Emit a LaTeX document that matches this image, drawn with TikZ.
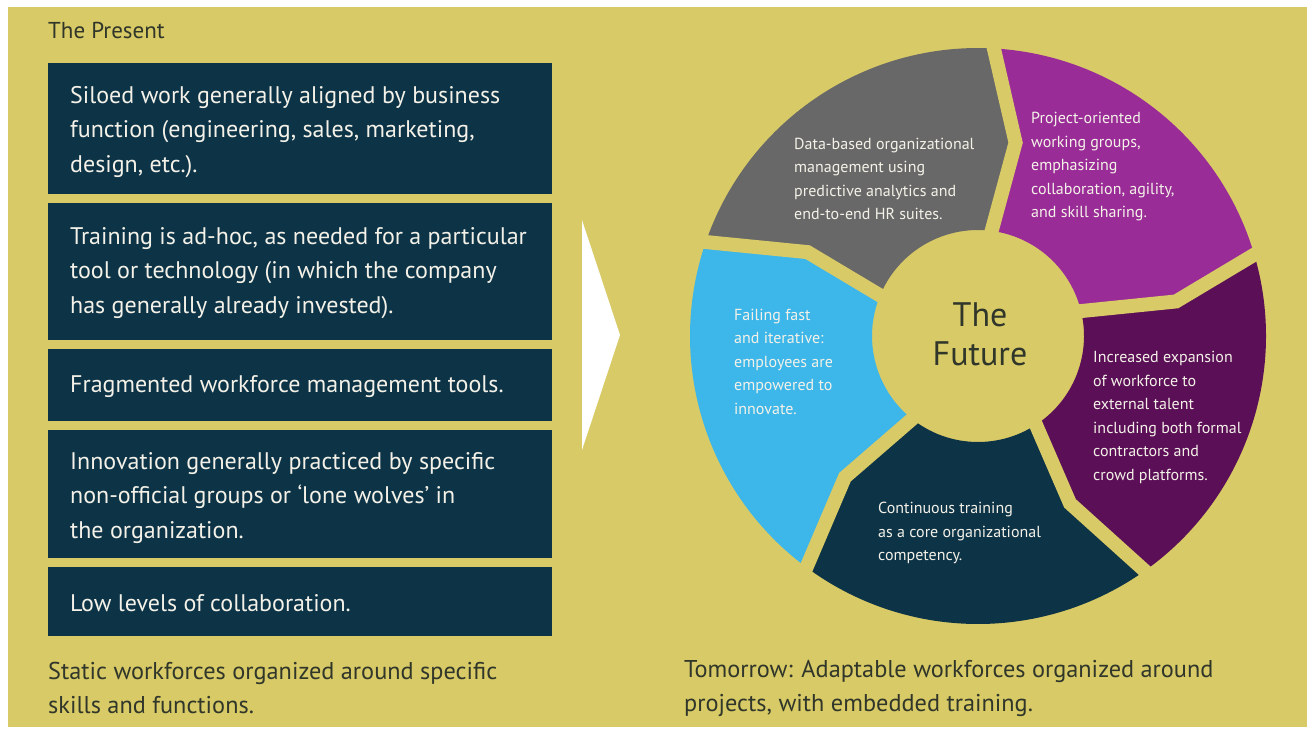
\documentclass[tikz,border=0pt]{standalone}
\usepackage{fontspec}
\setmainfont{PT Sans}
\usetikzlibrary{calc}
\definecolor{bgyellow}{HTML}{D8CA66}
\definecolor{boxnavy}{HTML}{0D3347}
\definecolor{seggray}{HTML}{686868}
\definecolor{segpurple}{HTML}{9A2C98}
\definecolor{segplum}{HTML}{5B0F57}
\definecolor{segblue}{HTML}{3DB6EA}
\definecolor{inkdark}{HTML}{30362A}
\definecolor{inklight}{HTML}{F4F2E8}
\begin{document}
\begin{tikzpicture}[x=1pt,y=-1pt,
  presentbox/.style={fill=boxnavy, draw=none, inner sep=0pt, minimum width=504pt, anchor=north west},
  boxtext/.style={anchor=west, align=left, inner sep=0pt, text=inklight, font=\fontsize{24}{34.5}\selectfont},
  caption/.style={anchor=west, align=left, inner sep=0pt, text=inkdark, font=\fontsize{24.3}{34}\selectfont},
  wheeltext/.style={anchor=west, align=left, inner sep=0pt, text=inklight, font=\fontsize{16}{23.5}\selectfont},
  gapline/.style={draw=bgyellow, line width=14pt, line join=miter}]
\useasboundingbox (0,0) rectangle (1307,729);
\fill[white] (0,0) rectangle (1307,729);
\fill[bgyellow] (8,7) rectangle (1307,727);

% ---- left column: the present ----
\node[caption, font=\fontsize{23}{26}\selectfont] (present) at (48,30) {The Present};

\node[presentbox, minimum height=131pt] (b1) at (48,63) {};
\node[presentbox, minimum height=137pt] (b2) at (48,203) {};
\node[presentbox, minimum height=72pt]  (b3) at (48,349) {};
\node[presentbox, minimum height=128pt] (b4) at (48,430) {};
\node[presentbox, minimum height=69pt]  (b5) at (48,567) {};

\node[boxtext] (t1) at (70,132) {Siloed work generally aligned by business\\function (engineering, sales, marketing,\\design, etc.).};
\node[boxtext] (t2) at (70,273) {Training is ad-hoc, as needed for a particular\\tool or technology (in which the company\\has generally already invested).};
\node[boxtext] (t3) at (70,387) {Fragmented workforce management tools.};
\node[boxtext] (t4) at (70,498) {Innovation generally practiced by specific\\non-official groups or `lone wolves' in\\the organization.};
\node[boxtext] (t5) at (70,603) {Low levels of collaboration.};

\node[caption] (capL) at (48,688) {Static workforces organized around specific\\skills and functions.};
\node[caption] (capR) at (684,688) {Tomorrow: Adaptable workforces organized around\\projects, with embedded training.};

% ---- white chevron between the halves ----
\fill[white] (582,220) -- (620,335) -- (582,450) -- cycle;

% ---- the wheel: five chevron segments running clockwise ----
\begin{scope}[shift={(978,336)}, x=1pt, y=1pt]
  \fill[seggray]   (161.5:288) arc[start angle=161.5, end angle=87.5, radius=288] -- (79:197) -- (84:106) arc[start angle=84, end angle=159, radius=106] -- (153.8:190) -- cycle;
  \fill[segpurple] (87.5:288) arc[start angle=87.5, end angle=17, radius=288] -- (9.9:201) -- (15:106) arc[start angle=15, end angle=84, radius=106] -- (79:197) -- cycle;
  \fill[segplum]   (17:288) arc[start angle=17, end angle=-54.1, radius=288] -- (-61.2:191) -- (-55.1:106) arc[start angle=-55.1, end angle=15, radius=106] -- (9.9:201) -- cycle;
  \fill[boxnavy]   (-54.1:288) arc[start angle=-54.1, end angle=-126, radius=288] -- (-133.3:194) -- (-126.5:106) arc[start angle=-126.5, end angle=-55.1, radius=106] -- (-61.2:191) -- cycle;
  \fill[segblue]   (234:288) arc[start angle=234, end angle=161.5, radius=288] -- (153.8:190) -- (159:106) arc[start angle=159, end angle=233.5, radius=106] -- (226.7:194) -- cycle;
  % yellow gaps between neighbouring segments
  \draw[gapline] (161.5:300) -- (153.8:190) -- (159:90);
  \draw[gapline] (87.5:300) -- (79:197) -- (84:90);
  \draw[gapline] (17:300) -- (9.9:201) -- (15:90);
  \draw[gapline] (-54.1:300) -- (-61.2:191) -- (-55.1:90);
  \draw[gapline] (-126:300) -- (-133.3:194) -- (-126.5:90);
  \fill[bgyellow] (0,0) circle[radius=103];
\end{scope}

\node[align=center, inner sep=0pt, text=inkdark, font=\fontsize{34}{39}\selectfont] (future) at (980,334) {The\\Future};

\node[wheeltext] (w1) at (794,179) {Data-based organizational\\management using\\predictive analytics and\\end-to-end HR suites.};
\node[wheeltext] (w2) at (1031,167) {Project-oriented\\working groups,\\emphasizing\\collaboration, agility,\\and skill sharing.};
\node[wheeltext] (w3) at (1093,417.5) {Increased expansion\\of workforce to\\external talent\\including both formal\\contractors and\\crowd platforms.};
\node[wheeltext] (w4) at (878,533) {Continuous training\\as a core organizational\\competency.};
\node[wheeltext] (w5) at (734,361.5) {Failing fast\\and iterative:\\employees are\\empowered to\\innovate.};
\end{tikzpicture}
\end{document}
